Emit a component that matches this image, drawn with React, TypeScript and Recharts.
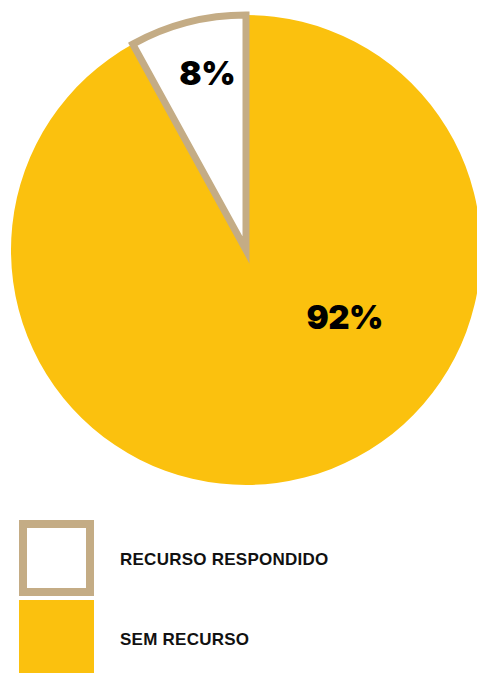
import { PieChart, Pie, Cell } from 'recharts';

const categories = ['SEM RECURSO', 'RECURSO RESPONDIDO'];
const values = [92, 8];
const fills = ['#fbc10e', '#ffffff'];
const strokes = ['none', '#c4ac85'];

const data = categories.map((name, i) => ({ name, value: values[i] }));

const CX = 246;
const CY = 250;
const R = 235;

// where each percentage sits, relative to centre, as fraction of the radius
const labelOffsets = [
    { dx: 0.42, dy: 0.285 },
    { dx: -0.165, dy: -0.755 },
];

function renderLabel(props: any) {
    const { index, value } = props;
    const off = labelOffsets[index];
    return (
        <text
            key={`lbl-${index}`}
            x={CX + off.dx * R}
            y={CY + off.dy * R}
            textAnchor="middle"
            dominantBaseline="central"
            fill="#000"
            style={{ fontFamily: 'Inter', fontWeight: 900, fontSize: 33, letterSpacing: -0.5 }}
        >
            {`${value}%`}
        </text>
    );
}

function LegendBox() {
    const order = [1, 0];
    return (
        <div style={{ position: 'absolute', left: 0, top: 517 }}>
            {order.map((i) => (
                <div
                    key={categories[i]}
                    style={{ display: 'flex', alignItems: 'center', height: i === 1 ? 82 : 78 }}
                >
                    <div
                        style={{
                            boxSizing: 'border-box',
                            width: 75,
                            height: 76,
                            marginLeft: 19,
                            background: fills[i],
                            border: i === 1 ? `8px solid ${strokes[i]}` : 'none',
                        }}
                    />
                    <span
                        style={{
                            marginLeft: 26,
                            fontFamily: 'Liberation Sans',
                            fontWeight: 700,
                            fontSize: 17,
                            letterSpacing: 0.25,
                            color: '#111',
                            marginTop: 3,
                        }}
                    >
                        {categories[i]}
                    </span>
                </div>
            ))}
        </div>
    );
}

export default function App() {
    return (
        <div style={{ position: 'absolute', top: 0, left: 0, width: 477, height: 673, background: '#fff', overflow: 'hidden' }}>
            <PieChart width={477} height={673} margin={{ top: 0, right: 0, bottom: 0, left: 0 }}>
                <Pie
                    data={data}
                    dataKey="value"
                    nameKey="name"
                    cx={CX}
                    cy={CY}
                    outerRadius={R}
                    startAngle={90}
                    endAngle={-270}
                    label={renderLabel}
                    labelLine={false}
                    isAnimationActive={false}
                >
                    {data.map((d, i) => (
                        <Cell
                            key={d.name}
                            fill={fills[i]}
                            stroke={strokes[i]}
                            strokeWidth={i === 1 ? 7 : 0}
                            strokeMiterlimit={10}
                        />
                    ))}
                </Pie>
            </PieChart>
            <LegendBox />
        </div>
    );
}
